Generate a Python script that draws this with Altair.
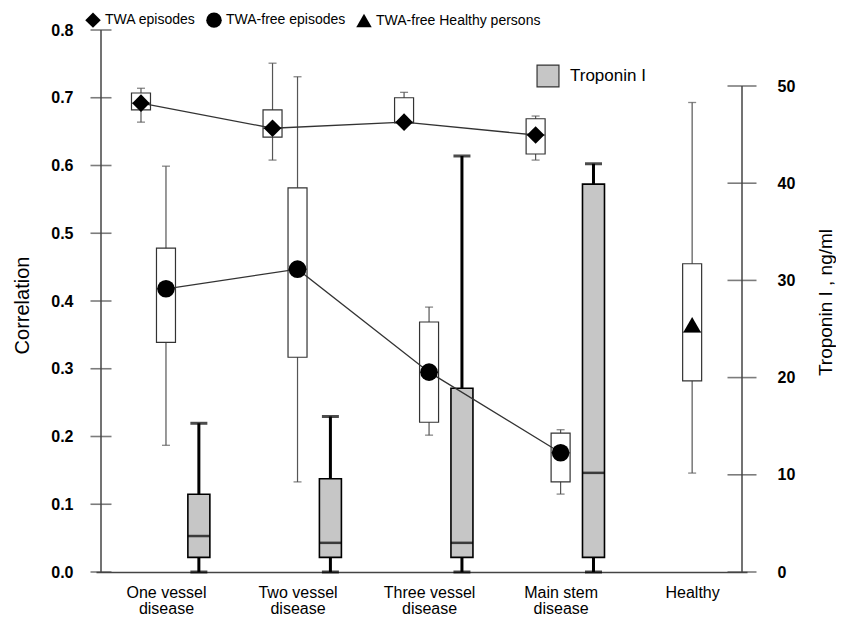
import altair as alt
import pandas as pd

# ---------------- data ----------------
categories = ["One vessel disease", "Two vessel disease", "Three vessel disease",
              "Main stem disease", "Healthy"]
label_lines = [["One vessel", "disease"], ["Two vessel", "disease"],
               ["Three vessel", "disease"], ["Main stem", "disease"], ["Healthy"]]
cat_index = [1, 2, 3, 4, 5]

series_names = ["TWA episodes", "TWA-free episodes", "TWA-free Healthy persons"]
trop_name = "Troponin I"

# TWA episodes (correlation), 4 disease groups
twa_lo = [0.664, 0.608, 0.663, 0.608]
twa_q1 = [0.682, 0.642, 0.663, 0.617]
twa_mark = [0.692, 0.655, 0.664, 0.645]
twa_q3 = [0.707, 0.682, 0.700, 0.669]
twa_hi = [0.714, 0.751, 0.708, 0.673]

# TWA-free episodes (correlation)
free_lo = [0.187, 0.133, 0.202, 0.115]
free_q1 = [0.339, 0.317, 0.221, 0.133]
free_mark = [0.418, 0.447, 0.295, 0.176]
free_q3 = [0.478, 0.567, 0.369, 0.205]
free_hi = [0.599, 0.731, 0.391, 0.210]

# TWA-free healthy persons (correlation)
healthy_lo = 0.146
healthy_q1 = 0.282
healthy_med = 0.354
healthy_mark = 0.365
healthy_q3 = 0.455
healthy_hi = 0.693

# Troponin I (ng/ml), 4 disease groups
trop_lo = [0.0, 0.0, 0.0, 0.0]
trop_q1 = [1.5, 1.5, 1.5, 1.5]
trop_med = [3.7, 3.0, 3.0, 10.2]
trop_q3 = [8.0, 9.6, 18.9, 39.9]
trop_hi = [15.3, 16.0, 42.8, 42.0]

corr_ticks = [0.0, 0.1, 0.2, 0.3, 0.4, 0.5, 0.6, 0.7, 0.8]
trop_ticks = [0, 10, 20, 30, 40, 50]

# ---------------- layout / style ----------------
W, H = 651, 542
X_MIN, X_MAX = 0.506, 5.379
CORR_TOP = 0.8
TROP_TOP = 50 * 542 / 486  # right axis 0..50 covers 486 of the 542 px
OFFSET = {"TWA episodes": -0.19, "TWA-free episodes": 0.0,
          "TWA-free Healthy persons": 0.0}
TROP_OFFSET = 0.25
FONT = "Liberation Sans"
NARROW = "Liberation Sans Narrow, Arial Narrow, Liberation Sans"

rows = []
for i in range(4):
    rows.append(dict(series="TWA episodes", pos=cat_index[i] + OFFSET["TWA episodes"],
                     lo=twa_lo[i], q1=twa_q1[i], med=twa_mark[i], q3=twa_q3[i],
                     hi=twa_hi[i], mark=twa_mark[i]))
for i in range(4):
    rows.append(dict(series="TWA-free episodes", pos=cat_index[i] + OFFSET["TWA-free episodes"],
                     lo=free_lo[i], q1=free_q1[i], med=free_mark[i], q3=free_q3[i],
                     hi=free_hi[i], mark=free_mark[i]))
rows.append(dict(series="TWA-free Healthy persons",
                 pos=cat_index[4] + OFFSET["TWA-free Healthy persons"],
                 lo=healthy_lo, q1=healthy_q1, med=healthy_med, q3=healthy_q3,
                 hi=healthy_hi, mark=healthy_mark))
corr_df = pd.DataFrame(rows)

trop_df = pd.DataFrame(dict(name=[trop_name] * 4,
                            pos=[c + TROP_OFFSET for c in cat_index[:4]],
                            lo=trop_lo, q1=trop_q1, med=trop_med, q3=trop_q3, hi=trop_hi))

left_axis_df = pd.DataFrame(dict(x=[X_MIN], y0=[0.0], y1=[CORR_TOP]))
left_ticks_df = pd.DataFrame(dict(x=[X_MIN] * len(corr_ticks), v=corr_ticks))
right_axis_df = pd.DataFrame(dict(x=[X_MAX], y0=[0], y1=[50]))
right_ticks_df = pd.DataFrame(dict(x=[X_MAX] * len(trop_ticks), v=trop_ticks))

label_expr = "[" + ",".join(
    "[" + ",".join("'" + s + "'" for s in lines) + "]" for lines in label_lines
) + "][datum.value - 1]"

x_scale = alt.Scale(domain=[X_MIN, X_MAX], nice=False, zero=False)
x_axis = alt.Axis(values=cat_index, labelExpr=label_expr, ticks=False, tickSize=0,
                  domain=True, domainColor="#444", domainWidth=1.5, grid=False,
                  labelFont=FONT, labelFontSize=16, labelColor="black",
                  labelPadding=12, labelLineHeight=16.5, labelFlush=False,
                  labelOverlap=False, title=None)

yl_scale = alt.Scale(domain=[0, CORR_TOP], nice=False, zero=False)
yl_axis = alt.Axis(orient="left", values=corr_ticks, format=".1f", ticks=False,
                   tickSize=0, domain=False, grid=False, labelPadding=23,
                   labelFont=FONT, labelFontSize=16, labelFontWeight="bold",
                   labelColor="black", title="Correlation", titleFont=FONT,
                   titleFontSize=20, titleFontWeight="normal", titleColor="black",
                   titleX=-74, titleY=275, titleAngle=270, titleAlign="center",
                   titleBaseline="middle")

yr_scale = alt.Scale(domain=[0, TROP_TOP], nice=False, zero=False)
yr_axis = alt.Axis(orient="right", values=trop_ticks, ticks=False, tickSize=0,
                   domain=False, grid=False, labelPadding=30,
                   labelFont=FONT, labelFontSize=16, labelFontWeight="bold",
                   labelColor="black", title="Troponin I , ng/ml", titleFont=FONT,
                   titleFontSize=19, titleFontWeight="normal", titleColor="black",
                   titleX=78, titleY=272, titleAngle=270, titleAlign="center",
                   titleBaseline="middle")


def X(field):
    return alt.X(field + ":Q", scale=x_scale, axis=x_axis, title=None)


def YL(field):
    return alt.Y(field + ":Q", scale=yl_scale, axis=yl_axis)


def YR(field):
    return alt.Y(field + ":Q", scale=yr_scale, axis=yr_axis)


# ---------------- correlation (left axis) ----------------
base_l = alt.Chart(corr_df)
l_domain = alt.Chart(left_axis_df).mark_rule(color="#444", strokeWidth=1.5).encode(
    x=X("x"), y=YL("y0"), y2="y1")
l_ticks = alt.Chart(left_ticks_df).mark_tick(orient="horizontal", size=21, thickness=1.6,
                                             color="#444").encode(x=X("x"), y=YL("v"))
whisk = base_l.mark_rule(color="#555", strokeWidth=1.2).encode(x=X("pos"), y=YL("lo"), y2="hi")
cap_hi = base_l.mark_tick(orient="horizontal", size=8, thickness=1.3, color="#555").encode(
    x=X("pos"), y=YL("hi"))
cap_lo = base_l.mark_tick(orient="horizontal", size=8, thickness=1.3, color="#555").encode(
    x=X("pos"), y=YL("lo"))
box = base_l.mark_bar(size=19, fill="white", stroke="#333", strokeWidth=1.2).encode(
    x=X("pos"), y=YL("q1"), y2="q3")
med = base_l.mark_tick(orient="horizontal", size=19, thickness=1.3, color="#333").encode(
    x=X("pos"), y=YL("med"))
lines = base_l.transform_filter(
    alt.datum.series != "TWA-free Healthy persons"
).mark_line(color="#333", strokeWidth=1.3).encode(
    x=X("pos"), y=YL("mark"), detail="series:N", order="pos:Q")
points = base_l.mark_point(filled=True, color="black", opacity=1, strokeWidth=0,
                           size=310).encode(
    x=X("pos"), y=YL("mark"),
    shape=alt.Shape("series:N",
                    scale=alt.Scale(domain=series_names,
                                    range=["diamond", "circle", "triangle-up"]),
                    legend=alt.Legend(orient="none", direction="horizontal",
                                      legendX=-11, legendY=-18, title=None,
                                      labelFont=NARROW, labelFontSize=14,
                                      labelColor="black", labelLimit=400,
                                      symbolSize=240,
                                      symbolFillColor="black", symbolStrokeColor="black",
                                      symbolStrokeWidth=0, columnPadding=10,
                                      labelOffset=4)))

left = alt.layer(l_domain, l_ticks, whisk, cap_hi, cap_lo, box, med, lines, points)

# ---------------- troponin (right axis) ----------------
base_r = alt.Chart(trop_df)
r_domain = alt.Chart(right_axis_df).mark_rule(color="#444", strokeWidth=1.5).encode(
    x=X("x"), y=YR("y0"), y2="y1")
r_ticks = alt.Chart(right_ticks_df).mark_tick(orient="horizontal", size=29, thickness=1.6,
                                              color="#444").encode(x=X("x"), y=YR("v"))
t_whisk = base_r.mark_rule(color="black", strokeWidth=3).encode(x=X("pos"), y=YR("lo"), y2="hi")
t_cap_hi = base_r.mark_tick(orient="horizontal", size=17, thickness=3, color="black").encode(
    x=X("pos"), y=YR("hi"))
t_cap_lo = base_r.mark_tick(orient="horizontal", size=17, thickness=3, color="black").encode(
    x=X("pos"), y=YR("lo"))
t_box = base_r.mark_bar(size=22, stroke="black", strokeWidth=1.6, opacity=1).encode(
    x=X("pos"), y=YR("q1"), y2="q3",
    fill=alt.Fill("name:N", scale=alt.Scale(domain=[trop_name], range=["#c6c6c6"]),
                  legend=alt.Legend(orient="none", legendX=440, legendY=34, title=None,
                                    symbolType="square", symbolSize=480,
                                    symbolStrokeColor="#333", symbolStrokeWidth=1.2,
                                    labelFont=FONT, labelFontSize=17, labelColor="black",
                                    labelOffset=10)))
t_med = base_r.mark_tick(orient="horizontal", size=22, thickness=2.5, color="black").encode(
    x=X("pos"), y=YR("med"))

right = alt.layer(r_domain, r_ticks, t_whisk, t_cap_hi, t_cap_lo, t_box, t_med)

chart = alt.layer(right, left).resolve_scale(y="independent").properties(
    width=W, height=H,
    autosize=alt.AutoSizeParams(type="none"),
    padding={"left": 88, "top": 22, "right": 89, "bottom": 45},
    background="white",
).configure_view(stroke=None).configure_axis(grid=False)

chart.save("out.html", embed_options={"renderer": "svg", "actions": False})
